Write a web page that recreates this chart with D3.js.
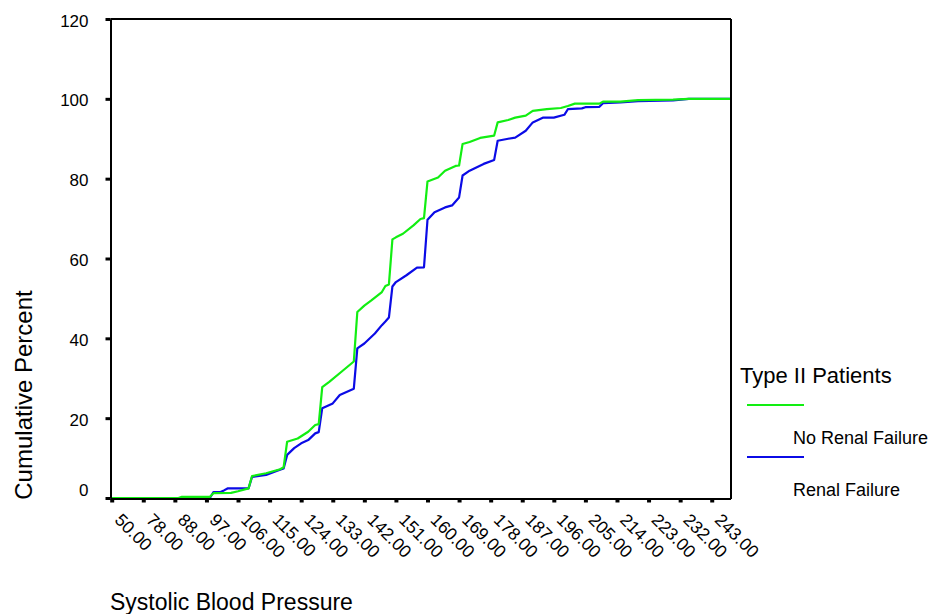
<!DOCTYPE html>
<html>
<head>
<meta charset="utf-8">
<script src="https://cdn.jsdelivr.net/npm/d3@7/dist/d3.min.js"></script>
<style>
  html, body { margin: 0; padding: 0; background: #fff; }
  svg { display: block; }
  text { font-family: "Liberation Sans", Arial, sans-serif; fill: #000; }
</style>
</head>
<body>
<svg id="chart" width="935" height="614"></svg>
<script>
// ---- data ----
const xTicks = [50, 78, 88, 97, 106, 115, 124, 133, 142, 151, 160, 169, 178, 187, 196, 205, 214, 223, 232, 243];
const yTicks = [0, 20, 40, 60, 80, 100, 120];

// No Renal Failure (cumulative percent by systolic BP)
const bpNoRF  = [50, 89, 90, 98, 99, 104, 106, 109, 110, 114, 118, 119, 120, 123, 126, 128, 129, 130, 132, 136, 139,
                 140, 142, 144, 147, 148, 149, 150, 151, 153, 156, 158, 159, 160, 163, 165, 168, 169, 170, 172, 175, 179,
                 180, 183, 185, 188, 190, 194, 198, 200, 202, 209, 210, 215, 220, 230, 235, 250];
const pctNoRF = [0, 0, 0.3, 0.3, 1.2, 1.3, 1.7, 2.4, 5.5, 6.2, 7.2, 7.7, 14.1, 14.9, 16.6, 18.3, 18.5, 27.8, 29.1, 32.0, 34.2,
                 46.6, 48.2, 49.5, 51.6, 53.1, 53.5, 64.8, 65.3, 66.2, 68.3, 69.9, 70.1, 79.3, 80.3, 82.0, 83.2, 83.3, 88.7, 89.2, 90.2, 90.8,
                 94.1, 94.7, 95.3, 95.8, 97.0, 97.4, 97.7, 98.2, 98.8, 98.8, 99.3, 99.3, 99.7, 99.8, 100, 100];

// Renal Failure
const bpRF  = [50, 98, 99, 101, 102, 103, 109, 110, 114, 117, 119, 120, 122, 124, 126, 128, 129, 130, 133, 135, 139,
               140, 142, 145, 147, 148, 149, 150, 151, 154, 157, 159, 160, 162, 165, 167, 169, 170, 172, 176, 179,
               180, 183, 185, 188, 190, 193, 196, 199, 200, 204, 205, 209, 210, 215, 220, 230, 235, 250];
const pctRF = [0, 0, 1.5, 1.5, 1.9, 2.4, 2.4, 5.3, 5.8, 6.8, 7.4, 10.8, 12.5, 13.7, 14.5, 16.2, 16.5, 22.5, 23.7, 25.8, 27.4,
               37.5, 38.7, 41.2, 43.3, 44.2, 45.2, 53.0, 54.1, 55.8, 57.7, 57.8, 69.7, 71.6, 72.8, 73.3, 75.3, 80.8, 82.0, 83.7, 84.7,
               89.5, 90.0, 90.3, 92.0, 94.1, 95.3, 95.3, 96.0, 97.4, 97.6, 97.9, 98.0, 98.9, 99.1, 99.4, 99.6, 100, 100];

const seriesNames = ["No Renal Failure", "Renal Failure"];
const colors = ["#12ee12", "#0b0be6"];
const legendTitle = "Type II Patients";
const xTitle = "Systolic Blood Pressure";
const yTitle = "Cumulative Percent";

// ---- layout ----
const pLeft = 110.5, pRight = 731, pTop = 19, pBottom = 498;
const step = 31.58;

const svg = d3.select("#chart");

const x = d3.scaleLinear()
  .domain(xTicks)
  .range(xTicks.map((d, i) => pLeft + 1.2 + i * step));
const y = d3.scaleLinear().domain([0, 120]).range([pBottom, pTop]);

// clip
svg.append("defs").append("clipPath").attr("id", "plotclip")
  .append("rect").attr("x", pLeft).attr("y", pTop - 2).attr("width", pRight - pLeft).attr("height", pBottom - pTop + 4);

// series lines (blue below, green on top)
const line = d3.line().x(d => x(d[0])).y(d => y(d[1]));
const dataNo = bpNoRF.map((b, i) => [b, pctNoRF[i]]);
const dataRF = bpRF.map((b, i) => [b, pctRF[i]]);

const gLines = svg.append("g").attr("clip-path", "url(#plotclip)");
gLines.append("path").datum(dataRF).attr("d", line)
  .attr("fill", "none").attr("stroke", colors[1]).attr("stroke-width", 2.2).attr("stroke-linejoin", "round");
gLines.append("path").datum(dataNo).attr("d", line)
  .attr("fill", "none").attr("stroke", colors[0]).attr("stroke-width", 2.2).attr("stroke-linejoin", "round");

// frame (top & right)
svg.append("line").attr("x1", pLeft).attr("x2", pRight).attr("y1", pTop).attr("y2", pTop)
  .attr("stroke", "#000").attr("stroke-width", 2);
svg.append("line").attr("x1", pRight).attr("x2", pRight).attr("y1", pTop).attr("y2", pBottom + 1)
  .attr("stroke", "#000").attr("stroke-width", 2);

// y axis
const yAxis = svg.append("g").attr("transform", `translate(${pLeft},0)`)
  .call(d3.axisLeft(y).tickValues(yTicks).tickSize(5).tickSizeOuter(0).tickPadding(17).tickFormat(d3.format("d")));
yAxis.select(".domain").attr("stroke", "#000").attr("stroke-width", 2);
yAxis.selectAll(".tick line").attr("stroke", "#000").attr("stroke-width", 3);
yAxis.selectAll(".tick text").style("font-size", "17px").attr("dy", "0.42em")
  .filter(d => d === 0).attr("dy", "-0.12em");

// x axis
const xAxis = svg.append("g").attr("transform", `translate(0,${pBottom + 1})`)
  .call(d3.axisBottom(x).tickValues(xTicks).tickSize(3.5).tickSizeOuter(0).tickFormat(d3.format(".2f")));
xAxis.select(".domain").attr("stroke", "#000").attr("stroke-width", 2)
  .attr("d", `M${pLeft},0H${pRight}`);
xAxis.selectAll(".tick line").attr("stroke", "#000").attr("stroke-width", 4);
xAxis.selectAll(".tick text")
  .style("font-size", "17.5px")
  .attr("x", 0).attr("y", 0).attr("dy", 0)
  .attr("text-anchor", "start")
  .attr("transform", "translate(1.5,22) rotate(45)");

// axis titles
svg.append("text").attr("transform", "translate(32,395) rotate(-90)")
  .attr("text-anchor", "middle").style("font-size", "24px").text(yTitle);
svg.append("text").attr("x", 110).attr("y", 610)
  .style("font-size", "23px").text(xTitle);

// legend
const lg = svg.append("g");
lg.append("text").attr("x", 740).attr("y", 383).style("font-size", "22px").text(legendTitle);
seriesNames.forEach((name, i) => {
  const ly = 405 + i * 52;
  lg.append("line").attr("x1", 747).attr("x2", 804).attr("y1", ly).attr("y2", ly)
    .attr("stroke", colors[i]).attr("stroke-width", 1.8);
  lg.append("text").attr("x", 793).attr("y", ly + 39).style("font-size", "18px").text(name);
});
</script>
</body>
</html>
